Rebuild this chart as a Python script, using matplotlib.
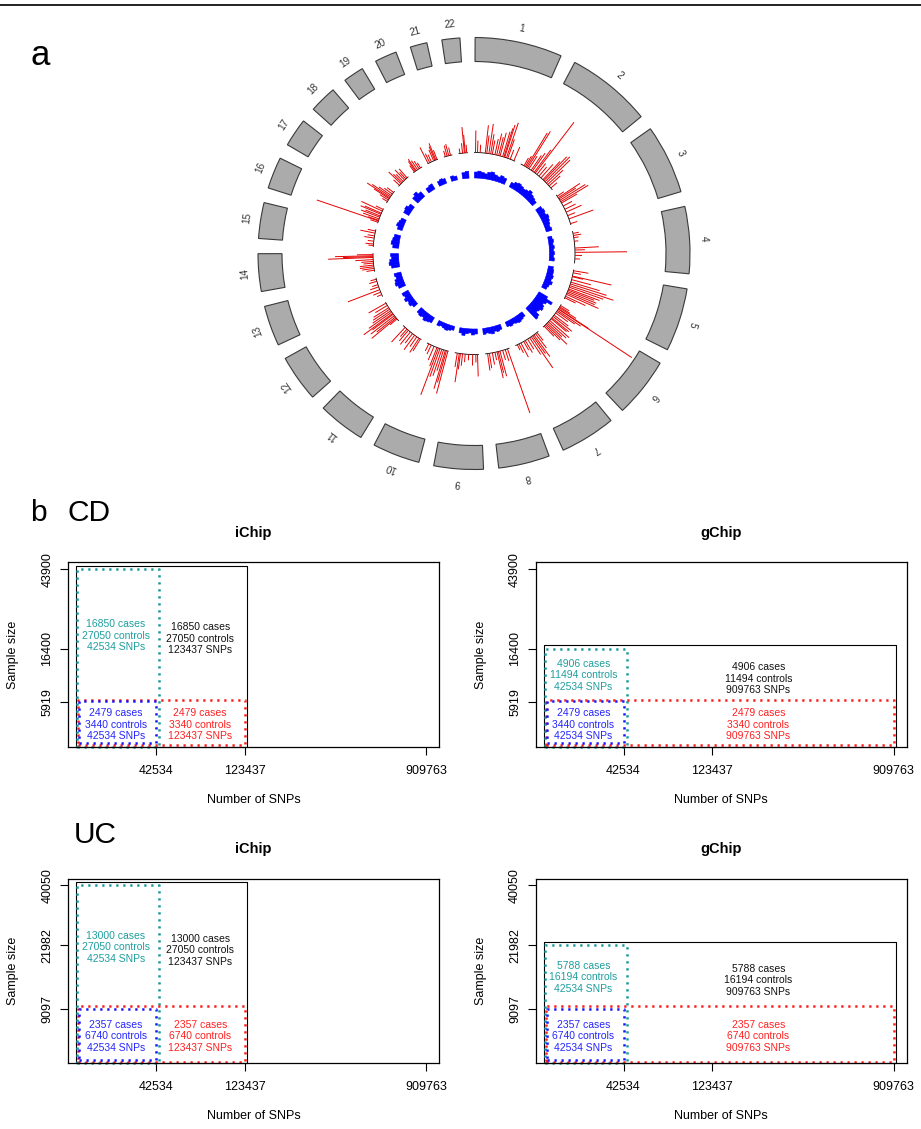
import numpy as np
import matplotlib.pyplot as plt
from matplotlib.lines import Line2D

plt.rcParams['font.family'] = ['Liberation Sans', 'DejaVu Sans']

# ---------------- panel a data ----------------
chrom_names = [str(i) for i in range(1, 23)]
chrom_mb = [249.3, 243.2, 198.0, 191.2, 180.9, 171.1, 159.1, 146.4, 141.2, 135.5,
            135.0, 133.9, 115.2, 107.3, 102.5, 90.4, 81.2, 78.1, 59.1, 63.0, 48.1, 51.3]

# association peaks (red): chromosome, position (Mb), score
gwas_chr = ([1] * 19 + [2] * 19 + [3] * 12 + [4] * 9 + [5] * 16 + [6] * 18 + [7] * 12
            + [8] * 10 + [9] * 9 + [10] * 11 + [11] * 9 + [12] * 12 + [13] * 7 + [14] * 11
            + [15] * 7 + [16] * 10 + [17] * 8 + [18] * 7 + [19] * 6 + [20] * 7 + [21] * 4 + [22] * 5)
gwas_mb = [6, 18, 34, 65, 74, 87, 98, 108, 124, 135, 147, 156, 172, 180, 185, 196, 204, 220, 244,
           20, 29, 37, 45, 55, 71, 80, 93, 101, 114, 130, 146, 162, 170, 180, 191, 203, 215, 231,
           8, 19, 27, 37, 47, 56, 77, 99, 118, 141, 162, 192,
           12, 25, 38, 60, 101, 113, 127, 145, 166,
           4, 17, 37, 41, 59, 75, 86, 97, 107, 118, 126, 135, 144, 153, 166, 176,
           6, 15, 21, 29, 31, 40, 48, 59, 75, 85, 96, 103, 117, 128, 138, 147, 156, 165,
           9, 20, 32, 41, 51, 63, 78, 94, 105, 124, 137, 148,
           11, 25, 41, 58, 68, 76, 89, 105, 123, 134,
           6, 16, 35, 59, 80, 96, 109, 116, 128,
           2, 11, 18, 29, 40, 52, 62, 71, 90, 109, 125,
           5, 15, 31, 47, 63, 79, 95, 106, 121,
           14, 21, 29, 39, 50, 56, 66, 76, 87, 98, 114, 130,
           11, 27, 43, 61, 75, 96, 109,
           7, 18, 28, 38, 50, 60, 71, 84, 89, 94, 101,
           6, 15, 32, 51, 64, 81, 94,
           4, 12, 16, 25, 36, 44, 55, 62, 76, 87,
           8, 19, 28, 34, 42, 51, 62, 74,
           6, 19, 28, 38, 50, 60, 70,
           6, 13, 19, 29, 40, 50,
           1, 12, 23, 38, 46, 52, 60,
           7, 18, 28, 39,
           6, 22, 33, 38, 47]
gwas_score = [22, 12, 8, 28, 18, 30, 20, 14, 16, 22, 19, 24, 26, 30, 34, 37, 20, 10, 15,
              9, 12, 40, 43, 15, 18, 22, 28, 64, 14, 12, 18, 25, 33, 35, 33, 21, 15, 8,
              8, 26, 20, 30, 32, 18, 10, 12, 17, 8, 26, 7,
              6, 8, 5, 4, 24, 10, 52, 7, 5,
              15, 8, 40, 11, 20, 30, 38, 46, 36, 33, 28, 31, 30, 35, 22, 12,
              10, 12, 20, 36, 88, 28, 22, 15, 18, 24, 22, 20, 26, 24, 20, 29, 21, 14,
              10, 18, 27, 22, 38, 20, 12, 14, 10, 16, 10, 6,
              68, 12, 10, 26, 22, 27, 8, 12, 15, 17,
              22, 8, 11, 6, 8, 12, 16, 29, 14,
              44, 33, 40, 22, 28, 30, 50, 20, 15, 10, 8,
              14, 17, 12, 18, 12, 16, 14, 10, 20,
              9, 32, 24, 30, 26, 36, 28, 22, 20, 18, 14, 20,
              5, 8, 34, 9, 6, 8, 6,
              8, 12, 14, 14, 10, 12, 18, 45, 30, 38, 16,
              5, 8, 6, 10, 7, 15, 8,
              8, 65, 11, 17, 20, 16, 22, 18, 23, 8,
              6, 10, 18, 27, 22, 15, 10, 8,
              8, 17, 12, 10, 14, 9, 12,
              8, 12, 14, 11, 9, 6,
              18, 10, 8, 12, 15, 18, 10,
              6, 11, 12, 8,
              5, 10, 26, 18, 8]

# iChip marker density (blue), equal bins along each chromosome
ichip_cov = [[6, 7, 6, 5, 7, 8, 6, 5, 7, 6], [5, 7, 8, 7, 6, 7, 9, 7, 6, 5],
             [6, 7, 6, 8, 7, 6, 5, 6], [4, 5, 4, 5, 4, 5, 4, 5], [5, 6, 6, 7, 6, 8, 6, 5],
             [10, 17, 12, 10, 12, 13, 11, 10, 14, 15], [5, 6, 7, 6, 5, 6, 5], [5, 6, 5, 7, 6, 5, 6],
             [5, 6, 4, 5, 7, 5], [4, 5, 6, 5, 4, 5], [6, 7, 8, 6, 7, 6], [5, 7, 6, 8, 6, 7],
             [7, 9, 8, 6, 7], [8, 10, 9, 7, 8], [6, 8, 7, 6], [5, 7, 6, 5], [6, 7, 5],
             [7, 9, 6], [5, 6], [5, 6, 5], [5, 4], [6, 7]]

# ---------------- panel b data ----------------
snp_ticks = [42534, 123437, 909763]
cd_ticks = [5919, 16400, 43900]
uc_ticks = [9097, 21982, 40050]
# (cases, controls, SNPs): full/all SNPs, full/shared SNPs, subset/all SNPs, subset/shared SNPs
cd_ichip = [(16850, 27050, 123437), (16850, 27050, 42534), (2479, 3340, 123437), (2479, 3440, 42534)]
cd_gchip = [(4906, 11494, 909763), (4906, 11494, 42534), (2479, 3340, 909763), (2479, 3440, 42534)]
uc_ichip = [(13000, 27050, 123437), (13000, 27050, 42534), (2357, 6740, 123437), (2357, 6740, 42534)]
uc_gchip = [(5788, 16194, 909763), (5788, 16194, 42534), (2357, 6740, 909763), (2357, 6740, 42534)]

W, H = 921, 1129
fig = plt.figure(figsize=(W / 100, H / 100), dpi=100)

fig.add_artist(Line2D([0, 1], [1 - 5 / H, 1 - 5 / H], transform=fig.transFigure,
                      color='#222222', lw=1.4))

# ---------------- circos ----------------
cx, cy, rmax = 474, 253.5, 245
pax = fig.add_axes([(cx - rmax) / W, 1 - (cy + rmax) / H, 2 * rmax / W, 2 * rmax / H],
                   projection='polar')
pax.set_theta_zero_location('N')
pax.set_theta_direction(-1)
pax.set_ylim(0, rmax)
pax.axis('off')

gap = 4.04
deg_per_mb = (360 - 22 * gap) / sum(chrom_mb)
starts = []
a = 0.3
for L in chrom_mb:
    starts.append(a)
    a += L * deg_per_mb + gap

r_base = 101
r_cov = 75.5
for i, L in enumerate(chrom_mb):
    s = np.radians(starts[i])
    span = np.radians(L * deg_per_mb)
    pax.bar(s + span / 2, 24, width=span, bottom=192, color='#ABABAB',
            edgecolor='#3a3a3a', linewidth=0.8)
    mid = starts[i] + L * deg_per_mb / 2
    pax.text(np.radians(mid), 230, chrom_names[i], rotation=-mid, rotation_mode='anchor',
             ha='center', va='center', fontsize=7.2, color='#333333')
    th = np.linspace(s, s + span, 40)
    pax.plot(th, np.full_like(th, r_base), color='black', lw=0.6)
    cov = ichip_cov[i]
    bw = span / len(cov)
    pax.bar(s + bw * (np.arange(len(cov)) + 0.5), cov, width=bw, bottom=r_cov,
            color='#0000FF', edgecolor='#0000FF', linewidth=0.4)

theta = [np.radians(starts[c - 1] + m * deg_per_mb) for c, m in zip(gwas_chr, gwas_mb)]
pax.vlines(theta, r_base, r_base + np.array(gwas_score), color='#E60000', lw=0.7)

fig.text(30 / W, 1 - 65 / H, 'a', fontsize=25)

# ---------------- panel b ----------------
PX, PY = 0.055, 0.43


def fwd_x(v):
    return np.power(np.maximum(v, 1e-9), PX)


def inv_x(v):
    return np.power(np.maximum(v, 1e-9), 1 / PX)


def fwd_y(v):
    return np.power(np.maximum(v, 1e-9), PY)


def inv_y(v):
    return np.power(np.maximum(v, 1e-9), 1 / PY)


def xmid(a, b):
    return inv_x((fwd_x(a) + fwd_x(b)) / 2)


def ymid(a, b):
    return inv_y((fwd_y(a) + fwd_y(b)) / 2)


x_lim = (13900, 1.043e6)
x_start = 15400
colors = ['black', '#17999B', '#FF1A1A', '#1414FF']
text_colors = ['#111111', '#1E9E9E', '#FF2020', '#2525FF']
pads = [(0, 0, 2, 3.5), (1, 0.3, 3, 0), (2, 1.7, 0, 3.2), (3.5, 3.7, 0, 0.6)]


def box(ax, x0, y0, x1, y1, pad, **kw):
    t = ax.transData
    (p0, q0), (p1, q1) = t.transform([(x0, y0), (x1, y1)])
    pts = [(p0 + pad[0], q0 + pad[1]), (p1 + pad[2], q1 + pad[3])]
    (a0, b0), (a1, b1) = t.inverted().transform(pts)
    ax.plot([a0, a1, a1, a0, a0], [b0, b0, b1, b1, b0], clip_on=False, **kw)


def chip_panel(rect, title, ylim, yticks, groups, title_pad):
    ax = fig.add_axes(rect)
    ax.set_xscale('function', functions=(fwd_x, inv_x))
    ax.set_yscale('function', functions=(fwd_y, inv_y))
    ax.set_xlim(*x_lim)
    ax.set_ylim(*ylim)
    for sp in ax.spines.values():
        sp.set_linewidth(0.9)
    ax.set_xticks(snp_ticks)
    ax.set_xticklabels([str(v) for v in snp_ticks])
    ax.set_yticks(yticks)
    ax.set_yticklabels([str(v) for v in yticks], rotation=90, va='center')
    ax.tick_params(axis='x', length=5.5, width=0.8, pad=7.5, labelsize=9)
    ax.tick_params(axis='y', length=5.5, width=0.8, pad=5, labelsize=9)
    ax.minorticks_off()
    ax.set_title(title, fontweight='bold', fontsize=10.5, pad=title_pad)
    ax.annotate('Sample size', xy=(0, 0.5), xycoords='axes fraction', xytext=(-39.5, 0),
                textcoords='offset points', rotation=90, ha='center', va='center', fontsize=9)
    ax.annotate('Number of SNPs', xy=(0.5, 0), xycoords='axes fraction', xytext=(0, -38),
                textcoords='offset points', ha='center', va='center', fontsize=9)
    fig.canvas.draw()
    y0 = ylim[0]
    for k, (cases, ctrls, snps) in enumerate(groups):
        if k == 0:
            style = dict(color=colors[k], lw=0.8)
        else:
            style = dict(color=colors[k], lw=1.8, linestyle=(0, (0.9, 1.9)))
        box(ax, x_start, y0, snps, cases + ctrls, pads[k], **style)
    top_all = groups[1][0] + groups[1][1]
    top_sub = groups[3][0] + groups[3][1]
    y_hi = ymid(top_all, top_sub)
    y_lo = ymid(y0, top_sub)
    x_a = xmid(x_start, groups[1][2])
    x_b = xmid(groups[1][2], groups[0][2])
    pos = [(x_b, y_hi, -2.3), (x_a, y_hi, 0), (x_b, y_lo, 0), (x_a, y_lo, 0)]
    for k, (cases, ctrls, snps) in enumerate(groups):
        x, y, dy = pos[k]
        ax.annotate(f'{cases} cases\n{ctrls} controls\n{snps} SNPs', xy=(x, y),
                    xytext=(0, dy), textcoords='offset points', ha='center', va='center',
                    fontsize=7.5, color=text_colors[k], linespacing=1.2)
    return ax


def rect_px(left, top, right, bottom):
    return [left / W, 1 - bottom / H, (right - left) / W, (bottom - top) / H]


cd_ylim = (1392, 47220)
uc_ylim = (2883, 42330)
chip_panel(rect_px(68, 562, 439, 747), 'iChip', cd_ylim, cd_ticks, cd_ichip, 18)
chip_panel(rect_px(535.7, 562, 906.7, 747), 'gChip', cd_ylim, cd_ticks, cd_gchip, 18)
chip_panel(rect_px(68, 879, 439, 1063.3), 'iChip', uc_ylim, uc_ticks, uc_ichip, 19)
chip_panel(rect_px(535.7, 879, 906.7, 1063.3), 'gChip', uc_ylim, uc_ticks, uc_gchip, 19)

fig.text(30 / W, 1 - 521 / H, 'b', fontsize=21.5)
fig.text(67 / W, 1 - 521 / H, 'CD', fontsize=21.5)
fig.text(74 / W, 1 - 843 / H, 'UC', fontsize=21.5)

fig.savefig('out.png', dpi=100)
